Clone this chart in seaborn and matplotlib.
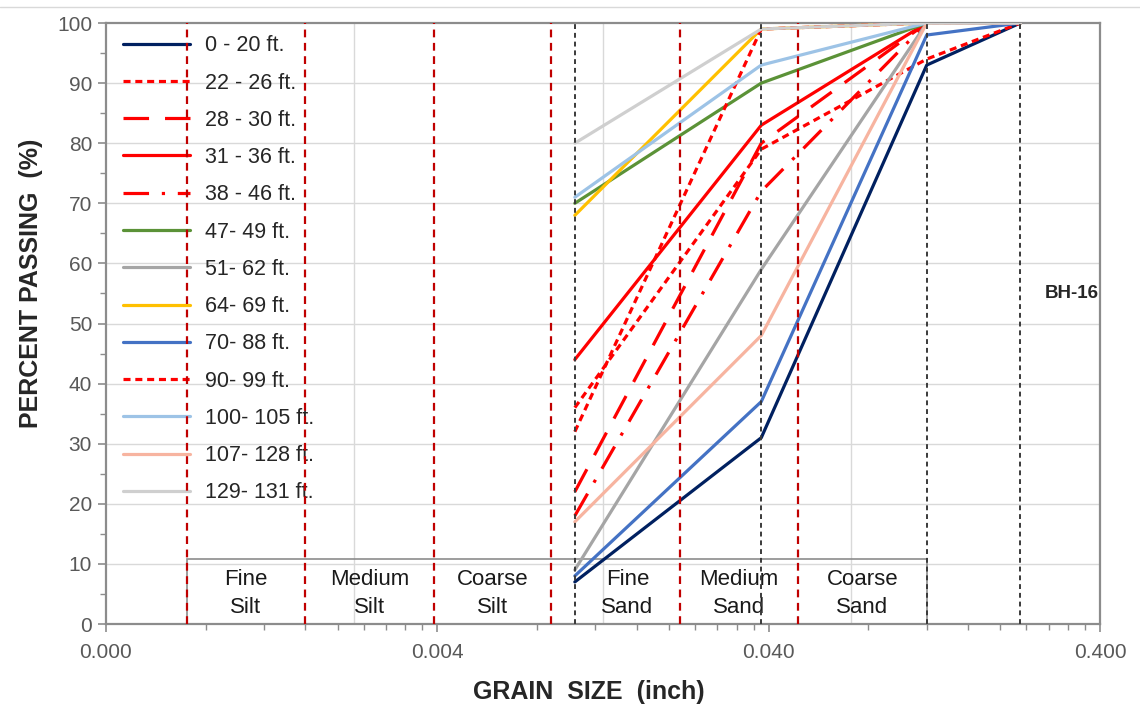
import numpy as np
import pandas as pd
import matplotlib
matplotlib.use("Agg")
import matplotlib.pyplot as plt
import seaborn as sns
from matplotlib.patches import Rectangle
from matplotlib.ticker import FixedLocator, FixedFormatter, NullFormatter

# ---------------- data ----------------
grain_size = [0.0104, 0.038, 0.12, 0.23]          # inch (sieve sizes)
series_labels = ["0 - 20 ft.", "22 - 26 ft.", "28 - 30 ft.", "31 - 36 ft.",
                 "38 - 46 ft.", "47- 49 ft.", "51- 62 ft.", "64- 69 ft.",
                 "70- 88 ft.", "90- 99 ft.", "100- 105 ft.", "107- 128 ft.",
                 "129- 131 ft."]
p_0_20 = [7, 31, 93, 100]
p_22_26 = [36, 79, 94, 100]
p_28_30 = [22, 80, 100, 100]
p_31_36 = [44, 83, 100, 100]
p_38_46 = [18, 72, 100, 100]
p_47_49 = [70, 90, 100, 100]
p_51_62 = [9, 59, 100, 100]
p_64_69 = [68, 99, 100, 100]
p_70_88 = [8, 37, 98, 100]
p_90_99 = [32, 99, 100, 100]
p_100_105 = [71, 93, 100, 100]
p_107_128 = [17, 48, 100, 100]
p_129_131 = [80, 99, 100, 100]
passing = [p_0_20, p_22_26, p_28_30, p_31_36, p_38_46, p_47_49, p_51_62,
           p_64_69, p_70_88, p_90_99, p_100_105, p_107_128, p_129_131]

class_bounds = [0.0007, 0.0016, 0.0039, 0.0088, 0.0216, 0.049]   # red dashed
sieve_lines = [0.0104, 0.038, 0.12, 0.23]                          # black dotted
class_names = ["Fine\nSilt", "Medium\nSilt", "Coarse\nSilt",
               "Fine\nSand", "Medium\nSand", "Coarse\nSand"]
class_edges = [0.0007, 0.0016, 0.0039, 0.0088, 0.0216, 0.049, 0.12]

major_ticks = [0.0004, 0.004, 0.04, 0.4]
major_labels = ["0.000", "0.004", "0.040", "0.400"]
y_ticks = list(range(0, 101, 10))

# ---------------- styles ----------------
colors = ["#002060", "#FF0000", "#FF0000", "#FF0000", "#FF0000", "#5B9237",
          "#A5A5A5", "#FFC000", "#4472C4", "#FF0000", "#9DC3E6", "#F7B4A0",
          "#CFCFCF"]
dash_styles = [None, (2.2, 1.5), (8, 5), None, (8, 4, 1, 4), None, None,
               None, None, (2.2, 1.5), None, None, None]

sns.set_style("white")
plt.rcParams["font.family"] = ["Liberation Sans", "DejaVu Sans"]

fig = plt.figure(figsize=(11.4, 7.11), dpi=100)
ax = fig.add_axes([106 / 1140, 1 - 624 / 711, (1100 - 106) / 1140, (624 - 23) / 711])

ax.set_xscale("log")
ax.set_xlim(0.0004, 0.4)
ax.set_ylim(0, 100)

# gridlines
for yv in y_ticks[1:-1]:
    ax.axhline(yv, color="#D9D9D9", lw=1, zorder=0)
for k in (0.75, 1.5, 2.25):
    ax.axvline(0.0004 * 10 ** k, color="#D9D9D9", lw=1, zorder=0)

# classification box
ax.add_patch(Rectangle((class_edges[0], 0), class_edges[-1] - class_edges[0], 10.8,
                       fill=False, edgecolor="#8C8C8C", lw=1.2, zorder=1))
label_pos = [np.sqrt(class_edges[i] * class_edges[i + 1]) for i in range(6)]
label_pos[3] = np.sqrt(sieve_lines[0] * class_edges[4])
for xp, name in zip(label_pos, class_names):
    ax.text(xp, 5.1, name, ha="center", va="center", fontsize=16,
            linespacing=1.4, color="#1a1a1a", zorder=2)

# data lines
df = pd.DataFrame({
    "size": np.tile(grain_size, len(series_labels)),
    "passing": np.concatenate(passing),
    "series": np.repeat(series_labels, len(grain_size)),
})
for lab, col, ds in zip(series_labels, colors, dash_styles):
    sub = df[df["series"] == lab]
    sns.lineplot(data=sub, x="size", y="passing", ax=ax, sort=False,
                 estimator=None, color=col, lw=2.3, label=lab, zorder=4)
    ln = ax.lines[-1]
    if ds is not None:
        ln.set_dashes(ds)

# vertical reference lines
for xv in class_bounds:
    ax.vlines(xv, 0, 100, colors="#C00000", lw=1.6, linestyles=(0, (3.5, 2.5)), zorder=5)
for xv in sieve_lines:
    ax.vlines(xv, 0, 100, colors="#3A3A3A", lw=1.4, linestyles=(0, (2.5, 2)), zorder=5)

ax.text(0.272, 55, "BH-16", fontsize=13.5, fontweight="bold", ha="left", va="center")

# axes formatting
ax.xaxis.set_major_locator(FixedLocator(major_ticks))
ax.xaxis.set_major_formatter(FixedFormatter(major_labels))
minor = [m * k for m in major_ticks[:-1] for k in range(2, 10)]
ax.xaxis.set_minor_locator(FixedLocator(minor))
ax.xaxis.set_minor_formatter(NullFormatter())
ax.yaxis.set_major_locator(FixedLocator(y_ticks))
ax.yaxis.set_minor_locator(FixedLocator(list(range(5, 100, 10))))

for sp in ax.spines.values():
    sp.set_color("#8C8C8C")
    sp.set_linewidth(1.6)
ax.tick_params(axis="both", which="major", direction="out", length=6, width=1.2,
               color="#8C8C8C", labelsize=15, labelcolor="#595959", pad=4,
               bottom=True, left=True)
ax.tick_params(axis="x", which="major", pad=8)
ax.tick_params(axis="both", which="minor", direction="out", length=4, width=1.0,
               color="#8C8C8C", bottom=True, left=True)

ax.set_xlabel("GRAIN  SIZE  (inch)", fontsize=18, fontweight="bold")
ax.xaxis.set_label_coords(0.486, -0.093)
ax.set_ylabel("PERCENT PASSING  (%)", fontsize=18, fontweight="bold")
ax.yaxis.set_label_coords(-0.063, 0.567)

leg = ax.legend(loc="upper left", bbox_to_anchor=(0.005, 1.0), frameon=False,
                fontsize=15.5, handlelength=3.1, handletextpad=0.7,
                labelspacing=0.755, borderaxespad=0.17)
leg.set_zorder(3)

# top border line of the chart area
fig.add_artist(plt.Line2D([0, 1], [1 - 7 / 711, 1 - 7 / 711], color="#D9D9D9", lw=1))

fig.savefig("out.png", dpi=100)
